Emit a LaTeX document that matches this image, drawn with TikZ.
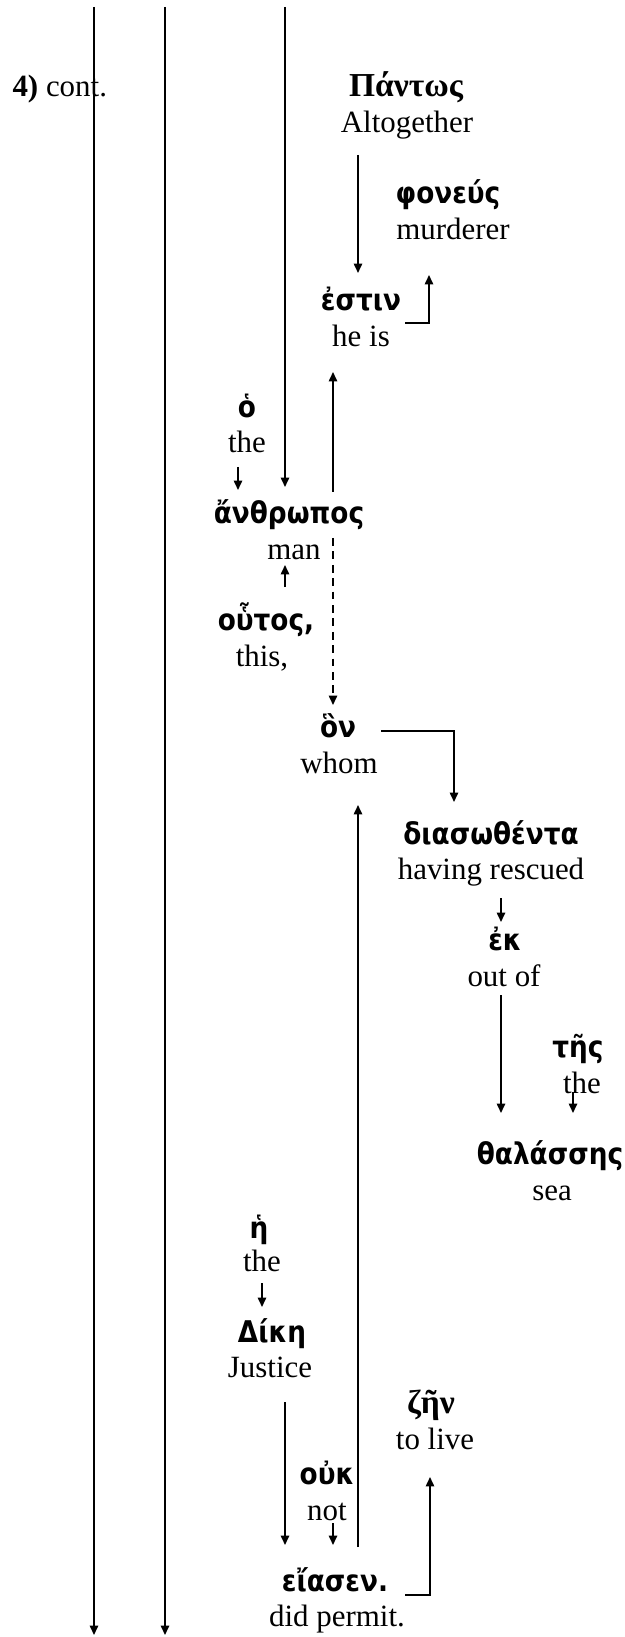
\documentclass[tikz,border=0pt]{standalone}
\usepackage{fontspec}
\setmainfont{Liberation Serif}
\newfontfamily\grk{DejaVu Sans}[FakeStretch=0.88]
\newfontfamily\grkserif{Liberation Serif}
\usetikzlibrary{arrows.meta}
\begin{document}
\begin{tikzpicture}[x=0.388pt,y=-0.388pt,
  en/.style={anchor=base,inner sep=0pt,font=\fontsize{12}{14}\selectfont},
  gr/.style={anchor=base,inner sep=0pt,font=\fontsize{11.6}{13}\selectfont\grk\bfseries},
  grs/.style={anchor=base,inner sep=0pt,font=\fontsize{13}{15}\selectfont\grkserif\bfseries},
  ln/.style={line width=0.65pt},
  arr/.style={line width=0.65pt,-{Triangle[length=3.6pt,width=3.2pt]}},
  darr/.style={arr,dash pattern=on 3pt off 2.2pt}]
\useasboundingbox (0,0) rectangle (625,1637);
% texts
\node[en,anchor=base west] (cont) at (12,97) {\textbf{4)} cont.};
\node[grs] (pantos) at (406,97) {Πάντως};
\node[en] (altogether) at (407,132.6) {Altogether};
\node[gr] (phoneus) at (448,203.7) {φονεύς};
\node[en] (murderer) at (453,239.3) {murderer};
\node[gr] (estin) at (361,310.5) {ἐστιν};
\node[en] (heis) at (361,346.1) {he is};
\node[gr] (ho) at (247,417.2) {ὁ};
\node[en] (the1) at (247,452.8) {the};
\node[gr] (anthropos) at (289,524) {ἄνθρωπος};
\node[en] (man) at (294,559.5) {man};
\node[gr] (houtos) at (266,630.7) {οὗτος,};
\node[en] (this) at (262,666.3) {this,};
\node[gr] (hon) at (338,737.4) {ὃν};
\node[en] (whom) at (339,773) {whom};
\node[gr] (dias) at (491,844.2) {διασωθέντα};
\node[en] (rescued) at (491,879.8) {having rescued};
\node[gr] (ek) at (505,950.9) {ἐκ};
\node[en] (outof) at (504,986.5) {out of};
\node[gr] (tes) at (578,1057.7) {τῆς};
\node[en] (the2) at (582,1093.2) {the};
\node[gr] (thal) at (550,1164.4) {θαλάσσης};
\node[en] (sea) at (552,1200) {sea};
\node[gr] (he) at (259,1238) {ἡ};
\node[en] (the3) at (262,1271.1) {the};
\node[gr] (dike) at (272,1342.3) {Δίκη};
\node[en] (justice) at (270,1377.9) {Justice};
\node[grs] (zen) at (431,1413.5) {ζῆν};
\node[en] (tolive) at (435,1449) {to live};
\node[gr] (ouk) at (327,1484.6) {οὐκ};
\node[en] (not) at (327,1520.2) {not};
\node[gr] (eiasen) at (335,1591.4) {εἴασεν.};
\node[en] (permit) at (337,1626.9) {did permit.};
% connector end points
\coordinate (l1s) at (94,7);    \coordinate (l1e) at (94,1635);
\coordinate (l2s) at (165,7);   \coordinate (l2e) at (165,1635);
\coordinate (l3s) at (285,7);   \coordinate (l3e) at (285,487);
\coordinate (a1s) at (358,155); \coordinate (a1e) at (358,273);
\coordinate (a2s) at (405,323); \coordinate (a2e) at (429,275);
\coordinate (a3s) at (333,492); \coordinate (a3e) at (333,372);
\coordinate (a4s) at (238,467); \coordinate (a4e) at (238,490);
\coordinate (a5s) at (285,587); \coordinate (a5e) at (285,565);
\coordinate (a6s) at (333,538); \coordinate (a6e) at (333,705);
\coordinate (a7s) at (381,731); \coordinate (a7e) at (454,802);
\coordinate (a8s) at (358,1547);\coordinate (a8e) at (358,805);
\coordinate (a9s) at (501,898); \coordinate (a9e) at (501,922);
\coordinate (a10s) at (501,995);\coordinate (a10e) at (501,1113);
\coordinate (a11s) at (573,1092);\coordinate (a11e) at (573,1113);
\coordinate (a12s) at (262,1283);\coordinate (a12e) at (262,1307);
\coordinate (a13s) at (285,1402);\coordinate (a13e) at (285,1545);
\coordinate (a14s) at (333,1523);\coordinate (a14e) at (333,1545);
\coordinate (a15s) at (405,1595);\coordinate (a15e) at (430,1477);
% connectors
\draw[arr] (l1s) -- (l1e);
\draw[arr] (l2s) -- (l2e);
\draw[arr] (l3s) -- (l3e);
\draw[arr] (a1s) -- (a1e);
\draw[arr] (a2s) -| (a2e);
\draw[arr] (a3s) -- (a3e);
\draw[arr] (a4s) -- (a4e);
\draw[arr] (a5s) -- (a5e);
\draw[darr] (a6s) -- (a6e);
\draw[arr] (a7s) -| (a7e);
\draw[arr] (a8s) -- (a8e);
\draw[arr] (a9s) -- (a9e);
\draw[arr] (a10s) -- (a10e);
\draw[arr] (a11s) -- (a11e);
\draw[arr] (a12s) -- (a12e);
\draw[arr] (a13s) -- (a13e);
\draw[arr] (a14s) -- (a14e);
\draw[arr] (a15s) -| (a15e);
\end{tikzpicture}
\end{document}
